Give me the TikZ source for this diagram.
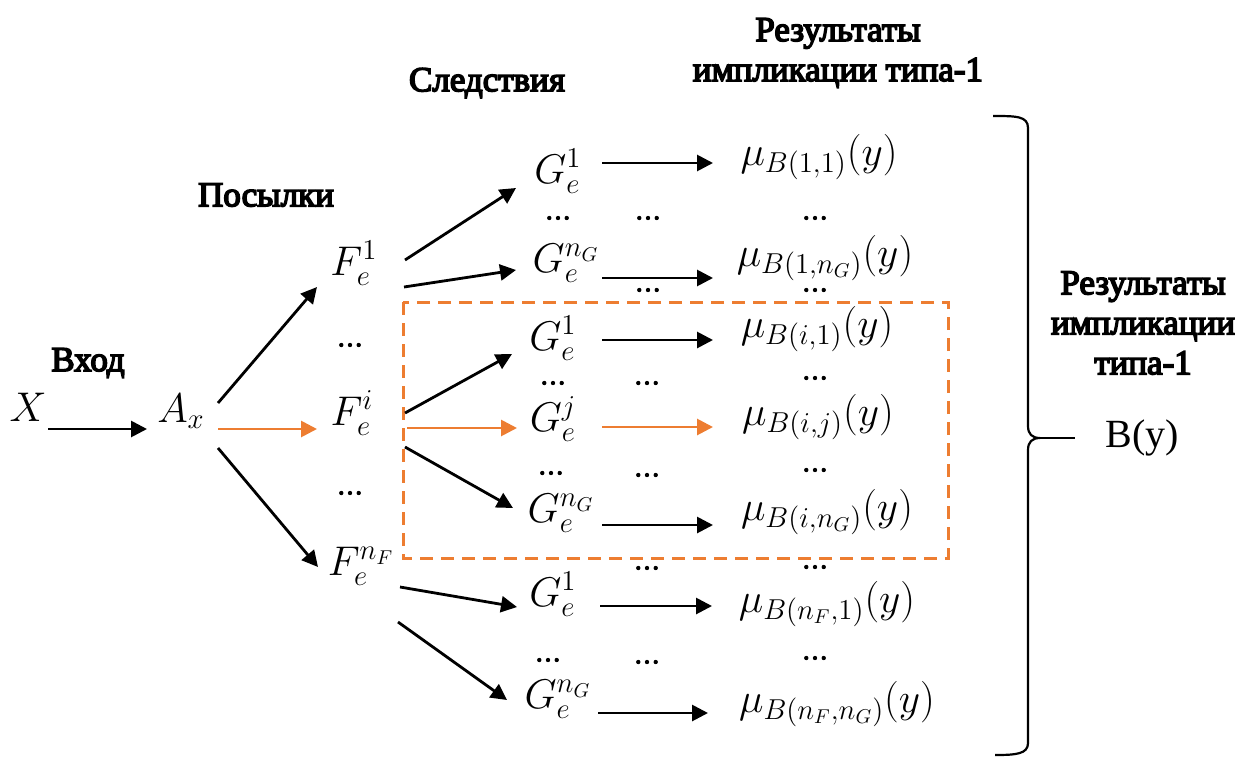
\documentclass[tikz,border=0pt]{standalone}
\usepackage{fontspec}
\setmainfont{Liberation Serif}
\newfontfamily\lblfont{Liberation Serif}[FakeBold=4.5]
\usetikzlibrary{arrows.meta,calc}
\definecolor{orng}{HTML}{ED7D31}
\tikzset{
  arr/.style={line width=1.4pt,-{Triangle[length=8pt,width=8pt]}},
  oarr/.style={arr,draw=orng,fill=orng},
  lbl/.style={font=\lblfont\fontsize{17.5}{20}\selectfont,align=center,inner sep=0pt},
  mth/.style={font=\fontsize{20.5}{25}\selectfont,anchor=base,inner sep=0pt},
  dts/.style={font=\lblfont\fontsize{13}{13}\selectfont,inner sep=0pt},
  dashedbox/.style={draw=orng,line width=1.5pt,dash pattern=on 6.5pt off 4pt},
  bracepath/.style={line width=1.1pt,line join=round},
}
\begin{document}
\begin{tikzpicture}[x=0.5pt,y=-0.5pt]
\useasboundingbox (0,0) rectangle (1240,760);

% headings
\node[lbl] (hIn) at (88,363) {Вход};
\node[lbl] (hPrem) at (266,195) {Посылки};
\node[lbl] (hCons) at (487,83) {Следствия};
\node[lbl] (hRes) at (838,53) {Результаты\\импликации типа-1};
\node[lbl] (hRes2) at (1143,323) {Результаты\\импликации\\типа-1};

% main nodes
\node[mth] (X) at (28,421) {$X$};
\node[mth] (A) at (181,422) {$A_x$};
\node[mth] (F1) at (354,275) {$F_e^{1}$};
\node[mth] (Fi) at (352,425) {$F_e^{i}$};
\node[mth] (FnF) at (361,575) {$F_e^{n_F}$};

\node[mth] (G11) at (558,183) {$G_e^{1}$};
\node[mth] (G1n) at (566,272) {$G_e^{n_G}$};
\node[mth] (Gi1) at (553,350) {$G_e^{1}$};
\node[mth] (Gij) at (553,431) {$G_e^{j}$};
\node[mth] (Gin) at (561,522) {$G_e^{n_G}$};
\node[mth] (Gn1) at (553,606) {$G_e^{1}$};
\node[mth] (Gnn) at (558,708) {$G_e^{n_G}$};

\node[mth] (M11) at (819,165) {$\mu_{B(1,1)}(y)$};
\node[mth] (M1n) at (825,266) {$\mu_{B(1,n_G)}(y)$};
\node[mth] (Mi1) at (817,337) {$\mu_{B(i,1)}(y)$};
\node[mth] (Mij) at (818,425) {$\mu_{B(i,j)}(y)$};
\node[mth] (Min) at (827,520) {$\mu_{B(i,n_G)}(y)$};
\node[mth] (Mn1) at (827,612) {$\mu_{B(n_F,1)}(y)$};
\node[mth] (Mnn) at (837,712) {$\mu_{B(n_F,n_G)}(y)$};

\node[font=\fontsize{20}{24}\selectfont,inner sep=0pt] (By) at (1142,438) {B(y)};

% dots
\node[dts] (dF1) at (350,345) {…};
\node[dts] (dF2) at (350,493) {…};
\node[dts] (dG1) at (558,218) {…};
\node[dts] (dG2) at (553,383) {…};
\node[dts] (dG3) at (551,473) {…};
\node[dts] (dG4) at (548,660) {…};
\node[dts] (dC1) at (648,218) {…};
\node[dts] (dC2) at (648,290) {…};
\node[dts] (dC3) at (647,383) {…};
\node[dts] (dC4) at (647,475) {…};
\node[dts] (dC5) at (647,568) {…};
\node[dts] (dC6) at (647,662) {…};
\node[dts] (dM1) at (815,218) {…};
\node[dts] (dM2) at (815,290) {…};
\node[dts] (dM3) at (815,378) {…};
\node[dts] (dM4) at (815,470) {…};
\node[dts] (dM5) at (815,567) {…};
\node[dts] (dM6) at (815,658) {…};

% dashed highlight box
\draw[dashedbox] (403,302) rectangle (948,558);

% connectors
\draw[arr] ($(X.base)+(20,8)$) -- ($(A.base)+(-34,7)$);
\draw[arr] ($(A.base)+(37,-19)$) -- ($(F1.base)+(-37,12)$);
\draw[oarr] ($(A.base)+(37,7)$) -- ($(Fi.base)+(-35,4)$);
\draw[arr] ($(A.base)+(37,26)$) -- ($(FnF.base)+(-43,-8)$);

\draw[arr] ($(F1.base)+(51,-15)$) -- ($(G11.base)+(-42,5)$);
\draw[arr] ($(F1.base)+(50,12)$) -- ($(G1n.base)+(-50,-2)$);
\draw[arr] ($(Fi.base)+(53,-12)$) -- ($(Gi1.base)+(-41,4)$);
\draw[oarr] ($(Fi.base)+(55,3)$) -- ($(Gij.base)+(-36,-3)$);
\draw[arr] ($(Fi.base)+(53,22)$) -- ($(Gin.base)+(-48,-14)$);
\draw[arr] ($(FnF.base)+(39,12)$) -- ($(Gn1.base)+(-36,1)$);
\draw[arr] ($(FnF.base)+(37,47)$) -- ($(Gnn.base)+(-51,-8)$);

\draw[arr] ($(G11.base)+(44,-20)$) -- ($(M11.base)+(-106,-2)$);
\draw[arr] ($(G1n.base)+(36,6)$) -- ($(M1n.base)+(-112,12)$);
\draw[arr] ($(Gi1.base)+(49,-10)$) -- ($(Mi1.base)+(-104,3)$);
\draw[oarr] ($(Gij.base)+(49,-4)$) -- ($(Mij.base)+(-105,2)$);
\draw[arr] ($(Gin.base)+(41,3)$) -- ($(Min.base)+(-114,5)$);
\draw[arr] ($(Gn1.base)+(47,0)$) -- ($(Mn1.base)+(-115,-6)$);
\draw[arr] ($(Gnn.base)+(40,5)$) -- ($(Mnn.base)+(-129,1)$);

% brace
\coordinate (tip) at (1040,438);
\draw[bracepath] (993,116) .. controls (1016,116) and (1028,116) .. (1028,128)
  -- (1028,426) .. controls (1028,434) and (1032,438) .. (tip)
  .. controls (1032,438) and (1028,442) .. (1028,450)
  -- (1028,743) .. controls (1028,754) and (1016,755) .. (995,755);
\draw[line width=1.1pt] (tip) -- ($(By.west)+(-30,0)$);
\end{tikzpicture}
\end{document}
